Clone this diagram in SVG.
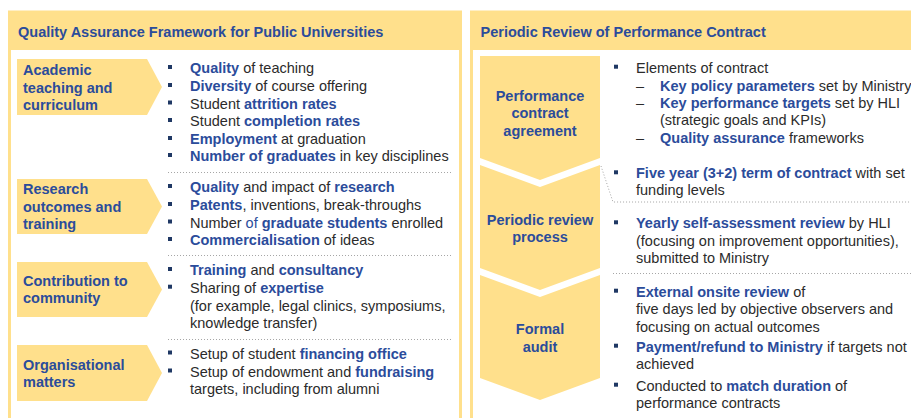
<svg xmlns="http://www.w3.org/2000/svg" width="911" height="418" viewBox="0 0 911 418">
<style>
.t{font-family:"Liberation Sans",Arial,sans-serif;font-size:14.5px;fill:#2b2b2b}
.b{font-weight:bold;fill:#2B4C9B}
.bl{fill:#2B4C9B}
.h{font-family:"Liberation Sans",Arial,sans-serif;font-size:14.5px;font-weight:bold;fill:#2B4C9B}
.m{text-anchor:middle}
.y{fill:#FFE08C}
.sep{stroke:#A6A6A6;stroke-dasharray:1 2;stroke-width:1;fill:none}
.bul{fill:#1F3864}
</style>
<g id="panel-left">
<rect x="9.5" y="12" width="451" height="420" fill="#fff" stroke="#FFE08C" stroke-width="3"/>
<rect x="8" y="12" width="454" height="38" class="y"/>
<text class="h" x="18" y="36.5">Quality Assurance Framework for Public Universities</text>
</g>
<g id="panel-right">
<rect x="471.5" y="12" width="460" height="420" fill="#fff" stroke="#FFE08C" stroke-width="3"/>
<rect x="470" y="12" width="441" height="38" class="y"/>
<text class="h" x="480.5" y="36.5">Periodic Review of Performance Contract</text>
</g>
<g id="separators">
<line class="sep" x1="168" y1="172.5" x2="451" y2="172.5"/>
<line class="sep" x1="168" y1="255.5" x2="451" y2="255.5"/>
<line class="sep" x1="168" y1="339.5" x2="451" y2="339.5"/>
<polyline class="sep" points="601,166 613,202 911,202"/>
<line class="sep" x1="613" y1="273.5" x2="911" y2="273.5"/>
</g>
<g id="cat-academic">
<polygon class="y" points="17,59 147,59 162,87 147,115 17,115"/>
<text class="h" x="23" y="75">Academic</text>
<text class="h" x="23" y="92.7">teaching and</text>
<text class="h" x="23" y="110">curriculum</text>
<rect class="bul" x="168" y="65" width="4" height="4"/>
<rect class="bul" x="168" y="83" width="4" height="4"/>
<rect class="bul" x="168" y="100.5" width="4" height="4"/>
<rect class="bul" x="168" y="118" width="4" height="4"/>
<rect class="bul" x="168" y="136" width="4" height="4"/>
<rect class="bul" x="168" y="153" width="4" height="4"/>
<text class="t" x="190" y="73"><tspan class="b">Quality</tspan> of teaching</text>
<text class="t" x="190" y="91"><tspan class="b">Diversity</tspan> of course offering</text>
<text class="t" x="190" y="108.5">Student <tspan class="b">attrition rates</tspan></text>
<text class="t" x="190" y="126">Student <tspan class="b">completion rates</tspan></text>
<text class="t" x="190" y="144"><tspan class="b">Employment</tspan> at graduation</text>
<text class="t" x="190" y="161"><tspan class="b">Number of graduates</tspan> in key disciplines</text>
</g>
<g id="cat-research">
<polygon class="y" points="17,179 147,179 162,206.5 147,234 17,234"/>
<text class="h" x="23" y="194">Research</text>
<text class="h" x="23" y="211.7">outcomes and</text>
<text class="h" x="23" y="229">training</text>
<rect class="bul" x="168" y="184" width="4" height="4"/>
<rect class="bul" x="168" y="202" width="4" height="4"/>
<rect class="bul" x="168" y="219.5" width="4" height="4"/>
<rect class="bul" x="168" y="237" width="4" height="4"/>
<text class="t" x="190" y="192"><tspan class="b">Quality</tspan> and impact of <tspan class="b">research</tspan></text>
<text class="t" x="190" y="210"><tspan class="b">Patents</tspan>, inventions, break-throughs</text>
<text class="t" x="190" y="227.5">Number <tspan class="bl">of </tspan><tspan class="b">graduate students</tspan> enrolled</text>
<text class="t" x="190" y="245"><tspan class="b">Commercialisation</tspan> of ideas</text>
</g>
<g id="cat-community">
<polygon class="y" points="17,262 147,262 162,289.5 147,317 17,317"/>
<text class="h" x="23" y="286">Contribution to</text>
<text class="h" x="23" y="303">community</text>
<rect class="bul" x="168" y="267" width="4" height="4"/>
<rect class="bul" x="168" y="284.7" width="4" height="4"/>
<text class="t" x="190" y="275"><tspan class="b">Training</tspan> and <tspan class="b">consultancy</tspan></text>
<text class="t" x="190" y="292.7">Sharing of <tspan class="b">expertise</tspan></text>
<text class="t" x="190" y="310.5">(for example, legal clinics, symposiums,</text>
<text class="t" x="190" y="328">knowledge transfer)</text>
</g>
<g id="cat-organisational">
<polygon class="y" points="17,345 147,345 162,373 147,401 17,401"/>
<text class="h" x="23" y="370">Organisational</text>
<text class="h" x="23" y="386.7">matters</text>
<rect class="bul" x="168" y="350.5" width="4" height="4"/>
<rect class="bul" x="168" y="368.5" width="4" height="4"/>
<text class="t" x="190" y="358.5">Setup of student <tspan class="b">financing office</tspan></text>
<text class="t" x="190" y="376.5">Setup of endowment and <tspan class="b">fundraising</tspan></text>
<text class="t" x="190" y="394">targets, including from alumni</text>
</g>
<g id="step-agreement">
<polygon class="y" points="480,56 600,56 600,158 540,180 480,158"/>
<text class="h m" x="540" y="100.7">Performance</text>
<text class="h m" x="540" y="118.3">contract</text>
<text class="h m" x="540" y="135.5">agreement</text>
<rect class="bul" x="614" y="64.7" width="4" height="4"/>
<text class="t" x="636" y="72.7">Elements of contract</text>
<text class="t" x="636" y="90.7">–</text>
<text class="t" x="660" y="90.7"><tspan class="b">Key policy parameters</tspan> set by Ministry</text>
<text class="t" x="636" y="107.5">–</text>
<text class="t" x="660" y="107.5"><tspan class="b">Key performance targets</tspan> set by HLI</text>
<text class="t" x="660" y="125">(strategic goals and KPIs)</text>
<text class="t" x="636" y="142.5">–</text>
<text class="t" x="660" y="142.5"><tspan class="b">Quality assurance</tspan> frameworks</text>
<rect class="bul" x="614" y="170.3" width="4" height="4"/>
<text class="t" x="636" y="178.3"><tspan class="b">Five year (3+2) term of contract</tspan> with set</text>
<text class="t" x="636" y="195">funding levels</text>
</g>
<g id="step-review">
<polygon class="y" points="480,165 540,187 600,165 600,268 540,290 480,268"/>
<text class="h m" x="540" y="225">Periodic review</text>
<text class="h m" x="540" y="241.7">process</text>
<rect class="bul" x="614" y="220.3" width="4" height="4"/>
<text class="t" x="636" y="228.3"><tspan class="b">Yearly self-assessment review</tspan> by HLI</text>
<text class="t" x="636" y="246">(focusing on improvement opportunities),</text>
<text class="t" x="636" y="263.3">submitted to Ministry</text>
</g>
<g id="step-audit">
<polygon class="y" points="480,275 540,297 600,275 600,378 540,400 480,378"/>
<text class="h m" x="540" y="334">Formal</text>
<text class="h m" x="540" y="351.7">audit</text>
<rect class="bul" x="614" y="288.7" width="4" height="4"/>
<rect class="bul" x="614" y="343.7" width="4" height="4"/>
<rect class="bul" x="614" y="382.7" width="4" height="4"/>
<text class="t" x="636" y="296.7"><tspan class="b">External onsite review</tspan> of</text>
<text class="t" x="636" y="314">five days led by objective observers and</text>
<text class="t" x="636" y="331.7">focusing on actual outcomes</text>
<text class="t" x="636" y="351.7"><tspan class="b">Payment/refund to Ministry</tspan> if targets not</text>
<text class="t" x="636" y="369.3">achieved</text>
<text class="t" x="636" y="390.7">Conducted to <tspan class="b">match duration</tspan> of</text>
<text class="t" x="636" y="408.3">performance contracts</text>
</g>
</svg>
